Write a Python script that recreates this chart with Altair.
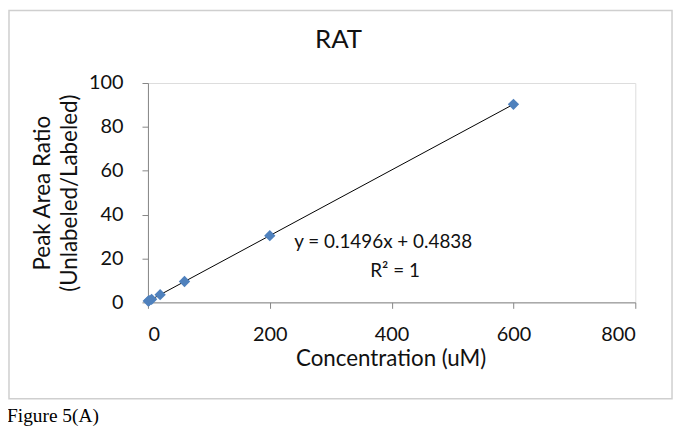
import altair as alt
import pandas as pd

# Data
concentration = [0.5, 2, 6, 20, 60, 200, 600]
ratio = [0.6, 0.8, 1.4, 3.5, 9.5, 30.4, 90.3]

x_ticks = [0, 200, 400, 600, 800]
y_ticks = [0, 20, 40, 60, 80, 100]

title_text = "RAT"
x_title = "Concentration (uM)"
y_title_lines = ["Peak Area Ratio", "(Unlabeled/Labeled)"]
equation_text = "y = 0.1496x + 0.4838"
r2_text = "R² = 1"
caption_text = "Figure 5(A)"

FONT = "Lato"
AXIS_GRAY = "#868686"
TEXT = "#111111"
BLUE = "#4F81BD"

df = pd.DataFrame({"conc": concentration, "ratio": ratio})

x_enc = alt.X("conc:Q", scale=alt.Scale(domain=[0, 800], nice=False),
              axis=alt.Axis(values=x_ticks, title=None, grid=False,
                            domainColor=AXIS_GRAY, tickColor=AXIS_GRAY,
                            tickSize=6, labelPadding=16, labelFont=FONT,
                            labelFontSize=20, labelColor=TEXT))
y_enc = alt.Y("ratio:Q", scale=alt.Scale(domain=[0, 100], nice=False),
              axis=alt.Axis(values=y_ticks, title=None, grid=False,
                            domainColor=AXIS_GRAY, tickColor=AXIS_GRAY,
                            tickSize=6, labelPadding=19, labelFont=FONT,
                            labelFontSize=20, labelColor=TEXT))

base = alt.Chart(df)

trend = base.mark_line(color="black", strokeWidth=1).encode(
    x=x_enc, y=y_enc
).transform_regression("conc", "ratio")

points = base.mark_point(shape="diamond", filled=True, size=130,
                         color=BLUE, opacity=1).encode(x=x_enc, y=y_enc)


def one(t):
    return alt.Chart(pd.DataFrame({"t": [t]}))


border = one("border").mark_rect(filled=False, stroke="#cfcfcf",
                                 strokeWidth=1.5).encode(
    x=alt.value(-140), x2=alt.value(528), y=alt.value(-73), y2=alt.value(318))

title = one(title_text).mark_text(font=FONT, fontSize=26, color=TEXT,
                                  align="center", baseline="alphabetic").encode(
    text="t:N", x=alt.value(192), y=alt.value(-35))

xt = one(x_title).mark_text(font=FONT, fontSize=22.5, color=TEXT,
                            align="center", baseline="alphabetic").encode(
    text="t:N", x=alt.value(245), y=alt.value(285))

yt1 = one(y_title_lines[0]).mark_text(font=FONT, fontSize=22.5, color=TEXT,
                                      align="center", baseline="middle",
                                      angle=270).encode(
    text="t:N", x=alt.value(-106), y=alt.value(111))
yt2 = one(y_title_lines[1]).mark_text(font=FONT, fontSize=22.5, color=TEXT,
                                      align="center", baseline="middle",
                                      angle=270).encode(
    text="t:N", x=alt.value(-78), y=alt.value(111))

eq = one(equation_text).mark_text(font=FONT, fontSize=19, color=TEXT,
                                  align="center", baseline="alphabetic").encode(
    text="t:N", x=alt.value(237), y=alt.value(166))
r2 = one(r2_text).mark_text(font=FONT, fontSize=19, color=TEXT,
                            align="center", baseline="alphabetic").encode(
    text="t:N", x=alt.value(249), y=alt.value(195))

caption = one(caption_text).mark_text(font="Liberation Serif", fontSize=19.5,
                                      color="black", align="left",
                                      baseline="alphabetic").encode(
    text="t:N", x=alt.value(-142), y=alt.value(342))

chart = alt.layer(border, trend, points, title, xt, yt1, yt2, eq, r2,
                  caption).properties(
    width=491, height=221,
    autosize=alt.AutoSizeParams(type="none"),
    padding={"left": 141, "top": 74, "right": 40, "bottom": 126},
).configure_view(stroke=None).configure(background="white")

chart.save("out.html", embed_options={"renderer": "svg", "actions": False})
